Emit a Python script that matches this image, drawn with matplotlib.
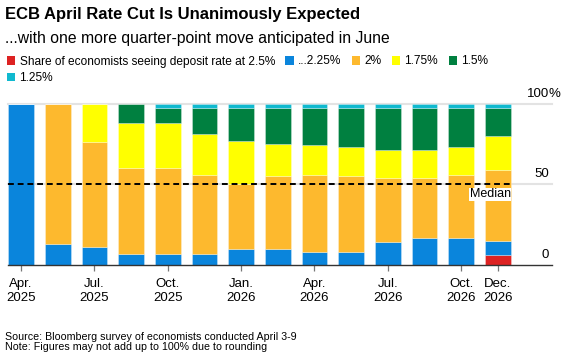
import matplotlib
matplotlib.use("Agg")
import matplotlib.pyplot as plt
from matplotlib.patches import Rectangle
import numpy as np

plt.rcParams['font.family'] = ['Liberation Sans', 'DejaVu Sans']

meetings = ["Apr. 2025", "Jun. 2025", "Jul. 2025", "Sep. 2025", "Oct. 2025", "Dec. 2025",
            "Jan. 2026", "Mar. 2026", "Apr. 2026", "Jun. 2026", "Jul. 2026", "Sep. 2026",
            "Oct. 2026", "Dec. 2026"]
tick_labels = {0: "Apr.\n2025", 2: "Jul.\n2025", 4: "Oct.\n2025", 6: "Jan.\n2026",
               8: "Apr.\n2026", 10: "Jul.\n2026", 12: "Oct.\n2026", 13: "Dec.\n2026"}

series_names = ["Share of economists seeing deposit rate at 2.5%", "...2.25%", "2%", "1.75%", "1.5%", "1.25%"]
rate_250 = [0, 0, 0, 0, 0, 0, 0, 0, 0, 0, 0, 0, 0, 6]
rate_225 = [100, 13, 11, 7, 7, 7, 10, 10, 8, 8, 14, 17, 17, 9]
rate_200 = [0, 87, 65, 53, 53, 49, 40, 45, 48, 47, 40, 37, 39, 44]
rate_175 = [0, 0, 24, 28, 28, 25, 27, 20, 18, 18, 17, 17, 17, 21]
rate_150 = [0, 0, 0, 12, 9, 16, 20, 22, 23, 24, 26, 26, 24, 17]
rate_125 = [0, 0, 0, 0, 3, 3, 3, 3, 3, 3, 3, 3, 3, 3]
median_value = 50
y_ticks = [0, 50, 100]

colors = ["#dd2222", "#0a85dc", "#fdb92e", "#ffff00", "#008040", "#10b9cf"]

W, H = 569, 358
fig = plt.figure(figsize=(W / 100, H / 100), dpi=100)

def px(x, y):
    return x / W, 1 - y / H

ax_left, ax_right, ax_top, ax_bot = 8.3, 552, 103.5, 265
ax = fig.add_axes([ax_left / W, 1 - ax_bot / H, (ax_right - ax_left) / W, (ax_bot - ax_top) / H])

x = np.arange(len(meetings))
bw = 0.70
bottom = np.zeros(len(meetings))
all_series = [rate_250, rate_225, rate_200, rate_175, rate_150, rate_125]
for vals, c in zip(all_series, colors):
    v = np.array(vals, dtype=float)
    ax.bar(x, v, bw, bottom=bottom, color=c, edgecolor=(1, 1, 1, 0.35), linewidth=0.6, zorder=3)
    bottom += v

ax.set_xlim(-bw / 2, -bw / 2 + (ax_right - ax_left) / 36.67)
ax.set_ylim(0, 100)

for t in y_ticks[1:]:
    ax.axhline(t, color="#e3e3e3", lw=1.5, zorder=1, clip_on=False)
ax.axhline(0, color="#333333", lw=1.0, zorder=4, clip_on=False)

# median line
ax.plot([-bw / 2, len(meetings) - 1 + bw / 2], [median_value, median_value], color="black",
        lw=1.4, ls=(0, (3, 2)), zorder=5, clip_on=False)
ax.text(len(meetings) - 1 + bw / 2, median_value - 2.5, "Median", ha="right", va="top",
        fontsize=9, zorder=6, bbox=dict(facecolor="white", edgecolor="none", pad=0.5))

# right-side y labels
for t in y_ticks:
    ax.annotate(str(t), xy=(1, t), xycoords=("axes fraction", "data"), xytext=(-2, 5),
                textcoords="offset points", ha="right", va="baseline", fontsize=9.5)
ax.annotate("%", xy=(1, 100), xycoords=("axes fraction", "data"), xytext=(-2.8, 5),
            textcoords="offset points", ha="left", va="baseline", fontsize=9.5)

for s in ax.spines.values():
    s.set_visible(False)
ax.set_yticks([])
tpos = sorted(tick_labels.keys())
ax.set_xticks(tpos)
ax.set_xticklabels([tick_labels[i] for i in tpos], fontsize=9.5, linespacing=1.25)
ax.tick_params(axis="x", length=4.5, width=0.9, color="#777777", pad=5)

# titles
fig.text(*px(5, 19.5), "ECB April Rate Cut Is Unanimously Expected", fontsize=12.0,
         fontweight="bold", va="baseline", ha="left")
fig.text(*px(5, 43.5), "...with one more quarter-point move anticipated in June", fontsize=11.3,
         va="baseline", ha="left")

# legend (flow layout)
fig.canvas.draw()
renderer = fig.canvas.get_renderer()
rows = [[0, 1, 2, 3, 4], [5]]
row_base = [64.5, 81]
sq = 8.5
for r, items in enumerate(rows):
    cx = 7
    for i in items:
        fig.patches.append(Rectangle(px(cx, row_base[r]), sq / W, sq / H, transform=fig.transFigure,
                                     facecolor=colors[i], edgecolor="none"))
        t = fig.text(*px(cx + 12.5, row_base[r]), series_names[i], fontsize=8.6, va="baseline", ha="left")
        bb = t.get_window_extent(renderer)
        cx = bb.x1 + 10.5

fig.text(*px(5, 339.5), "Source: Bloomberg survey of economists conducted April 3-9", fontsize=7.65,
         va="baseline", ha="left")
fig.text(*px(5, 350.5), "Note: Figures may not add up to 100% due to rounding", fontsize=7.65,
         va="baseline", ha="left")

fig.savefig("out.png", dpi=100)
